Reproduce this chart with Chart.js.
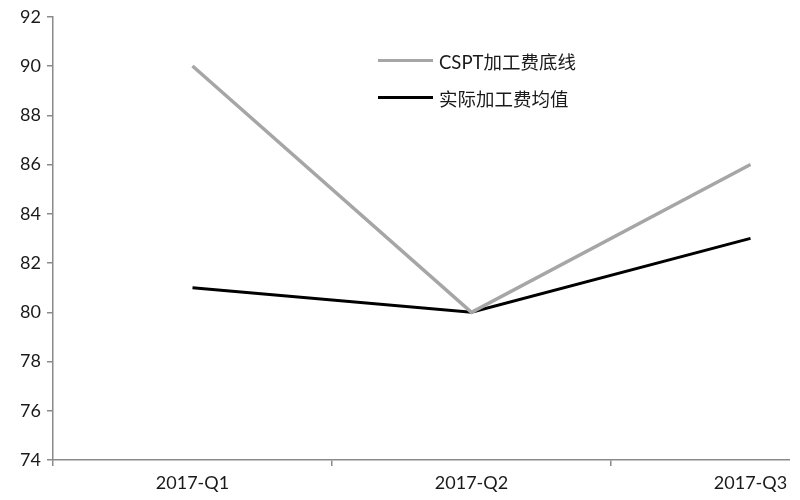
<!DOCTYPE html>
<html>
<head>
<meta charset="utf-8">
<script src="https://cdn.jsdelivr.net/npm/chart.js@4.4.1/dist/chart.umd.min.js"></script>
<style>
  html, body { margin: 0; padding: 0; background: #fff; }
  #frame { position: relative; width: 790px; height: 500px; overflow: hidden; }
  #wrap { position: absolute; left: 0; top: 0; width: 892px; height: 500px; }
  #legend { position: absolute; left: 378px; top: 42px; font-family: Lato, "Noto Sans CJK SC", sans-serif; font-size: 18.5px; color: #1a1a1a; }
  #legend .row { display: flex; align-items: center; height: 37px; }
  #legend .swatch { width: 55px; margin-right: 6px; }
</style>
</head>
<body>
<div id="frame">
  <div id="wrap"><canvas id="chart"></canvas></div>
  <div id="legend"></div>
</div>
<script>
// quarters on the x axis
const quarters = ['2017-Q1', '2017-Q2', '2017-Q3'];
// CSPT floor processing fee
const csptFloor = [90, 80, 86];
// actual average processing fee
const actualAvg = [81, 80, 83];

const fontFamily = 'Lato, "Noto Sans CJK SC", sans-serif';
const axisGray = '#8a8a8a';

const chart = new Chart(document.getElementById('chart'), {
  type: 'line',
  data: {
    labels: quarters,
    datasets: [
      {
        label: 'CSPT加工费底线',
        data: csptFloor,
        borderColor: '#a6a6a6',
        borderWidth: 3.5,
        pointRadius: 0,
        tension: 0,
      },
      {
        label: '实际加工费均值',
        data: actualAvg,
        borderColor: '#000000',
        borderWidth: 3,
        pointRadius: 0,
        tension: 0,
      }
    ]
  },
  options: {
    responsive: true,
    maintainAspectRatio: false,
    animation: false,
    layout: { padding: { top: 15, right: 2, left: 0, bottom: 0 } },
    plugins: {
      legend: { display: false },
      tooltip: { enabled: false },
    },
    scales: {
      x: {
        offset: true,
        grid: { offset: true, drawOnChartArea: false, drawTicks: true, tickLength: 6, color: axisGray, lineWidth: 1.5 },
        border: { color: axisGray, width: 1.5 },
        ticks: { color: '#1a1a1a', font: { family: fontFamily, size: 18 }, padding: 6, maxRotation: 0 },
        afterFit: s => { s.height = 40; },
      },
      y: {
        min: 74,
        max: 92,
        ticks: { stepSize: 2, color: '#1a1a1a', font: { family: fontFamily, size: 18 }, padding: 6 },
        grid: { drawOnChartArea: false, drawTicks: true, tickLength: 6, color: axisGray, lineWidth: 1.5 },
        border: { color: axisGray, width: 1.5 },
        afterFit: s => { s.width = 53; },
      }
    }
  }
});

// HTML legend built from the datasets
const legendEl = document.getElementById('legend');
legendEl.innerHTML = chart.data.datasets.map(ds => `
  <div class="row">
    <span class="swatch" style="border-top:${ds.borderWidth}px solid ${ds.borderColor}"></span>
    <span>${ds.label}</span>
  </div>`).join('');
</script>
</body>
</html>
